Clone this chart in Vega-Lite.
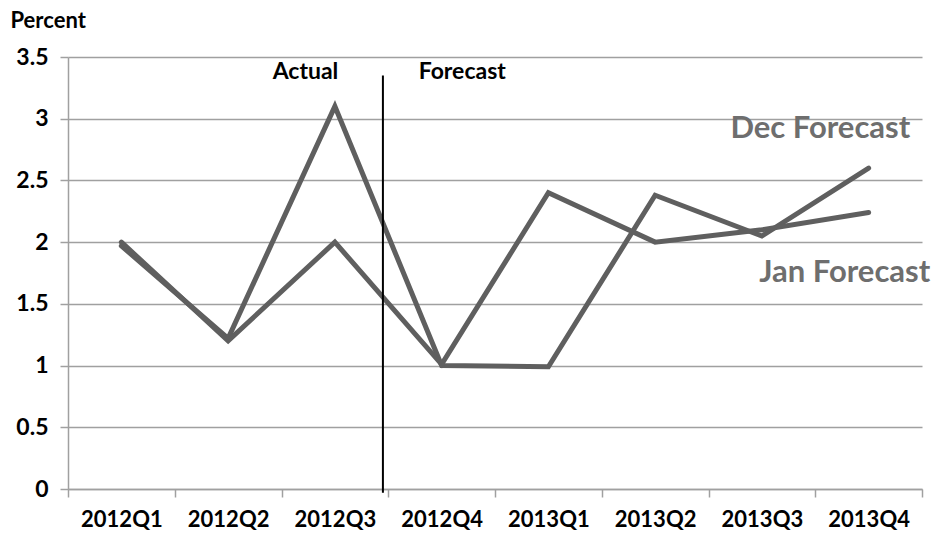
{
  "$schema": "https://vega.github.io/schema/vega-lite/v6.json",
  "width": 854,
  "height": 432,
  "autosize": {"type": "none"},
  "padding": {"left": 68, "top": 57, "right": 13, "bottom": 44},
  "background": "white",
  "config": {
    "view": {"stroke": null},
    "font": "Lato"
  },
  "datasets": {
    "series": [
      {"series": "A", "quarter": "2012Q1", "value": 1.97},
      {"series": "A", "quarter": "2012Q2", "value": 1.22},
      {"series": "A", "quarter": "2012Q3", "value": 3.1},
      {"series": "A", "quarter": "2012Q4", "value": 1.0},
      {"series": "A", "quarter": "2013Q1", "value": 0.99},
      {"series": "A", "quarter": "2013Q2", "value": 2.38},
      {"series": "A", "quarter": "2013Q3", "value": 2.05},
      {"series": "A", "quarter": "2013Q4", "value": 2.6},
      {"series": "B", "quarter": "2012Q1", "value": 2.0},
      {"series": "B", "quarter": "2012Q2", "value": 1.2},
      {"series": "B", "quarter": "2012Q3", "value": 2.0},
      {"series": "B", "quarter": "2012Q4", "value": 1.01},
      {"series": "B", "quarter": "2013Q1", "value": 2.4},
      {"series": "B", "quarter": "2013Q2", "value": 2.0},
      {"series": "B", "quarter": "2013Q3", "value": 2.1},
      {"series": "B", "quarter": "2013Q4", "value": 2.24}
    ],
    "divider": [{"quarter": "2012Q3", "top": 3.35, "bottom": -0.03}],
    "phase": [
      {"quarter": "2012Q3", "label": "Actual", "value": 3.38, "dx": 24},
      {"quarter": "2012Q4", "label": "Forecast", "value": 3.38, "dx": 74}
    ],
    "names": [
      {"quarter": "2013Q4", "label": "Dec Forecast", "value": 2.92, "dx": 95},
      {"quarter": "2013Q4", "label": "Jan Forecast", "value": 1.75, "dx": 115}
    ]
  },
  "encoding": {
    "x": {
      "field": "quarter",
      "type": "ordinal",
      "sort": null,
      "scale": {"type": "band", "paddingInner": 0, "paddingOuter": 0,
        "domain": ["2012Q1","2012Q2","2012Q3","2012Q4","2013Q1","2013Q2","2013Q3","2013Q4"]},
      "axis": {
        "title": null,
        "labelAngle": 0,
        "tickBand": "extent",
        "domainColor": "#a0a0a0",
        "domainWidth": 1.5,
        "tickColor": "#a0a0a0",
        "tickWidth": 1.5,
        "tickSize": 8,
        "labelFont": "Lato",
        "labelFontWeight": "bold",
        "labelFontSize": 22,
        "labelColor": "#000000",
        "labelPadding": 12,
        "grid": false
      }
    }
  },
  "layer": [
    {
      "data": {"name": "series"},
      "mark": {"type": "line", "color": "#5f5f5f", "strokeWidth": 5, "strokeCap": "round", "strokeJoin": "miter"},
      "encoding": {
        "x": {"field": "quarter", "type": "ordinal", "sort": null, "bandPosition": 0.5},
        "y": {
          "field": "value",
          "type": "quantitative",
          "scale": {"domain": [0, 3.5], "nice": false, "zero": true},
          "axis": {
            "title": "Percent",
            "titleAngle": 0,
            "titleX": -58,
            "titleY": -37,
            "titleAlign": "left",
            "titleBaseline": "middle",
            "titleFont": "Lato",
            "titleFontSize": 22,
            "titleFontWeight": "bold",
            "titleColor": "#000000",
            "values": [0, 0.5, 1, 1.5, 2, 2.5, 3, 3.5],
            "format": "~g",
            "grid": true,
            "gridColor": "#a0a0a0",
            "gridWidth": 1.5,
            "domainColor": "#a0a0a0",
            "domainWidth": 1.5,
            "tickColor": "#a0a0a0",
            "tickWidth": 1.5,
            "tickSize": 8,
            "labelFont": "Lato",
            "labelFontSize": 23,
            "labelFontWeight": "bold",
            "labelColor": "#000000",
            "labelPadding": 12
          }
        },
        "detail": {"field": "series"}
      }
    },
    {
      "data": {"name": "divider"},
      "mark": {"type": "rule", "color": "#000000", "strokeWidth": 2},
      "encoding": {
        "x": {"field": "quarter", "type": "ordinal", "sort": null, "bandPosition": 0.95},
        "y": {"field": "top", "type": "quantitative"},
        "y2": {"field": "bottom"}
      }
    },
    {
      "data": {"name": "phase"},
      "mark": {"type": "text", "font": "Lato", "fontWeight": "bold", "fontSize": 23, "color": "#000000", "baseline": "middle", "align": "center"},
      "encoding": {
        "x": {"field": "quarter", "type": "ordinal", "sort": null},
        "y": {"field": "value", "type": "quantitative"},
        "text": {"field": "label"},
        "xOffset": {"field": "dx", "type": "quantitative", "scale": null}
      }
    },
    {
      "data": {"name": "names"},
      "mark": {"type": "text", "font": "Lato", "fontWeight": "bold", "fontSize": 31, "color": "#6e6e6e", "baseline": "middle", "align": "right"},
      "encoding": {
        "x": {"field": "quarter", "type": "ordinal", "sort": null},
        "y": {"field": "value", "type": "quantitative"},
        "text": {"field": "label"},
        "xOffset": {"field": "dx", "type": "quantitative", "scale": null}
      }
    }
  ]
}
